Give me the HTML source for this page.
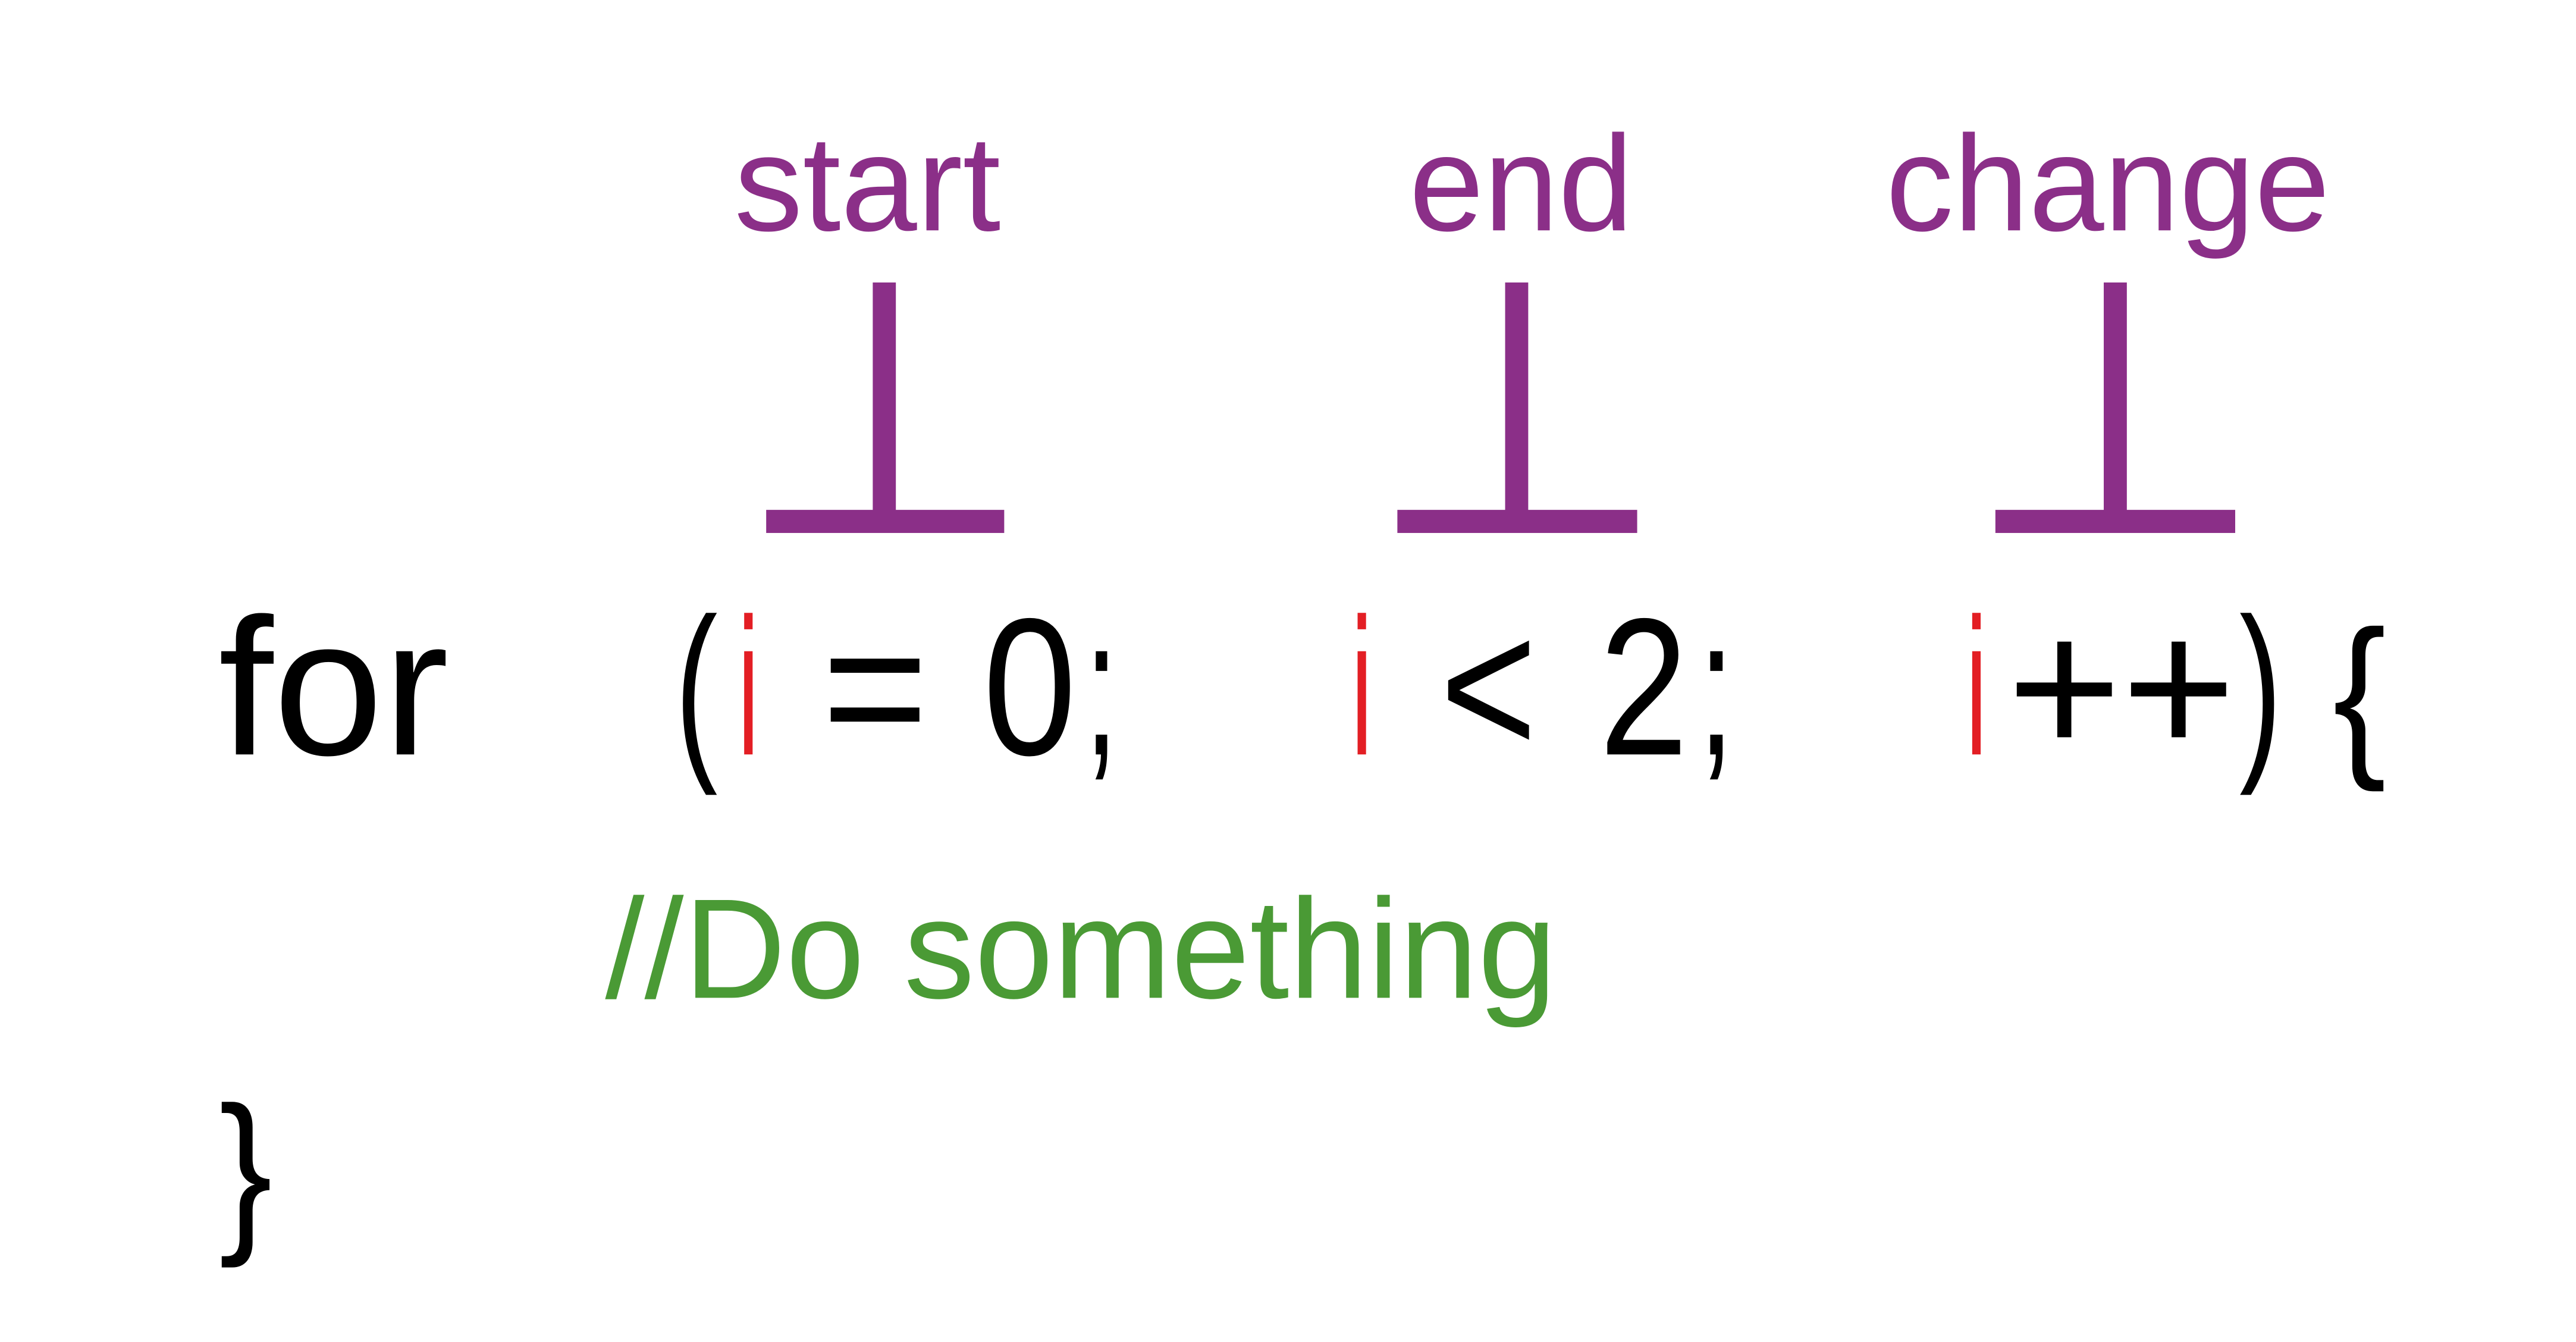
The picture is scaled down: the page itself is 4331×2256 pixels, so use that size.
<!DOCTYPE html>
<html><head><meta charset="utf-8"><style>
html,body{margin:0;padding:0;background:#fff;width:4331px;height:2256px;overflow:hidden}
svg{display:block}
text{font-family:"Liberation Sans",sans-serif}
</style></head><body>
<svg width="4331" height="2256" viewBox="0 0 4331 2256" xmlns="http://www.w3.org/2000/svg">
<rect width="4331" height="2256" fill="#fff"/>
<g transform="scale(0.9955)">
<g fill="#8b2f88">
<rect x="1474" y="477" width="39" height="390"/>
<rect x="1294" y="861" width="402" height="39"/>
<rect x="2542" y="477" width="39" height="390"/>
<rect x="2360" y="861" width="405" height="39"/>
<rect x="3553" y="477" width="39" height="390"/>
<rect x="3370" y="861" width="405" height="39"/>
</g>
<g fill="#8b2f88" font-size="230">
<text x="1240" y="389" textLength="450" lengthAdjust="spacingAndGlyphs">start</text>
<text x="2380" y="389" textLength="378" lengthAdjust="spacingAndGlyphs">end</text>
<text x="3185" y="389" textLength="750" lengthAdjust="spacingAndGlyphs">change</text>
</g>
<g font-size="330" fill="#000">
<text x="369" y="1274" textLength="389" lengthAdjust="spacingAndGlyphs">for</text>
<text x="1140" y="1274" textLength="72" lengthAdjust="spacingAndGlyphs">(</text>
<text x="1246" y="1274" textLength="36" lengthAdjust="spacingAndGlyphs" fill="#e31e24">i</text>
<text x="1388" y="1274" textLength="180" lengthAdjust="spacingAndGlyphs">=</text>
<text x="1660" y="1274" textLength="158" lengthAdjust="spacingAndGlyphs">0</text>
<text x="1832" y="1274" textLength="56" lengthAdjust="spacingAndGlyphs">;</text>
<text x="2282" y="1274" textLength="36" lengthAdjust="spacingAndGlyphs" fill="#e31e24">i</text>
<text x="2432" y="1274" textLength="164" lengthAdjust="spacingAndGlyphs">&lt;</text>
<text x="2701" y="1274" textLength="150" lengthAdjust="spacingAndGlyphs">2</text>
<text x="2868" y="1274" textLength="61" lengthAdjust="spacingAndGlyphs">;</text>
<text x="3320" y="1274" textLength="36" lengthAdjust="spacingAndGlyphs" fill="#e31e24">i</text>
<text x="3390" y="1274" textLength="386" lengthAdjust="spacingAndGlyphs">++</text>
<text x="3782" y="1274" textLength="72" lengthAdjust="spacingAndGlyphs">)</text>
</g>
<g font-size="300" fill="#000">
<text x="3940" y="1274" textLength="90" lengthAdjust="spacingAndGlyphs">{</text>
<text x="370" y="2078" textLength="90" lengthAdjust="spacingAndGlyphs">}</text>
</g>
<text x="1022" y="1685" font-size="240" fill="#4a9a35" textLength="1607" lengthAdjust="spacingAndGlyphs">//Do something</text>
</g>
</svg>
</body></html>
